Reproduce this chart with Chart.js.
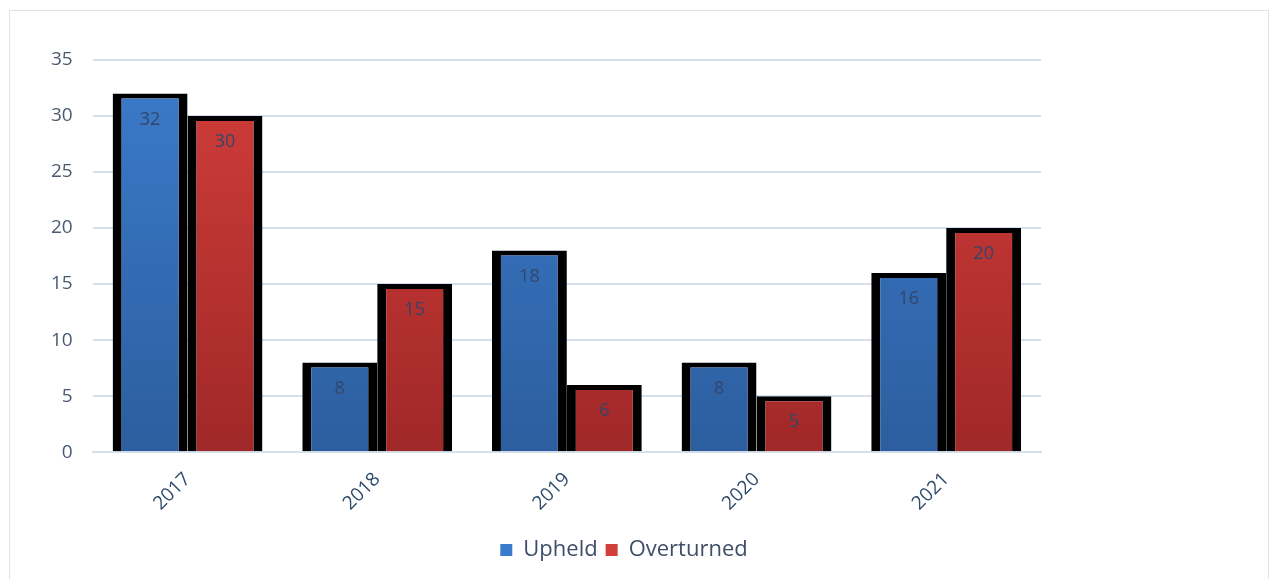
<!DOCTYPE html>
<html>
<head>
<meta charset="utf-8">
<script src="https://cdn.jsdelivr.net/npm/chart.js@4/dist/chart.umd.min.js"></script>
<style>
  html, body { margin: 0; padding: 0; background: #fff; }
  #wrap { position: absolute; left: 0; top: 0; width: 1273px; height: 579px; }
  #frame { position: absolute; left: 9px; top: 10px; width: 1258px; height: 580px; border: 1px solid #dde3ea; }
</style>
</head>
<body>
<div id="wrap">
  <div id="frame"></div>
  <canvas id="chart" width="1273" height="579"></canvas>
</div>
<script>
const years = ['2017', '2018', '2019', '2020', '2021'];
const upheld = [32, 8, 18, 8, 16];
const overturned = [30, 15, 6, 5, 20];

const blueTop = '#3b7bcb', blueBottom = '#2c5e9f';
const redTop = '#d23e3a', redBottom = '#a02828';

// vertical gradient fill across the plot area
const gradient = (top, bottom) => (ctx) => {
  const area = ctx.chart.chartArea;
  if (!area) return top;
  const g = ctx.chart.ctx.createLinearGradient(0, area.top, 0, area.bottom);
  g.addColorStop(0, top);
  g.addColorStop(1, bottom);
  return g;
};

// numbers drawn inside each bar, just below the top
const barLabels = {
  id: 'barLabels',
  afterDatasetsDraw(chart) {
    const ctx = chart.ctx;
    ctx.save();
    ctx.font = '18px "Open Sans", sans-serif';
    ctx.fillStyle = '#34466a';
    ctx.textAlign = 'center';
    ctx.textBaseline = 'middle';
    chart.data.datasets.forEach((ds, i) => {
      chart.getDatasetMeta(i).data.forEach((bar, j) => {
        ctx.fillText(ds.data[j], bar.x, bar.y + 26);
      });
    });
    ctx.restore();
  }
};

const legendColors = [blueTop, redTop];

new Chart(document.getElementById('chart'), {
  type: 'bar',
  data: {
    labels: years,
    datasets: [
      {
        label: 'Upheld',
        data: upheld,
        backgroundColor: gradient(blueTop, blueBottom),
        borderColor: '#000',
        borderWidth: { top: 5, left: 9, right: 9, bottom: 0 },
        borderSkipped: 'bottom',
      },
      {
        label: 'Overturned',
        data: overturned,
        backgroundColor: gradient(redTop, redBottom),
        borderColor: '#000',
        borderWidth: { top: 5, left: 9, right: 9, bottom: 0 },
        borderSkipped: 'bottom',
      },
    ],
  },
  options: {
    responsive: false,
    animation: false,
    layout: { padding: { left: 31, right: 56, top: 60, bottom: 8 } },
    datasets: {
      bar: { categoryPercentage: 0.79, barPercentage: 1.0 },
    },
    plugins: {
      legend: {
        position: 'bottom',
        labels: {
          boxWidth: 12,
          boxHeight: 12,
          padding: 8,
          color: '#3e4e6a',
          font: { size: 22, family: '"Open Sans", sans-serif' },
          generateLabels: (chart) => chart.data.datasets.map((ds, i) => ({
            text: ds.label,
            fillStyle: legendColors[i],
            strokeStyle: legendColors[i],
            lineWidth: 0,
            fontColor: '#3e4e6a',
            datasetIndex: i,
          })),
        },
      },
      tooltip: { enabled: false },
    },
    scales: {
      x: {
        grid: { display: false },
        border: { color: '#d6e0ea', width: 2 },
        afterFit: (scale) => { scale.height += 8; },
        ticks: {
          minRotation: 45,
          maxRotation: 45,
          padding: 8,
          color: '#2e4a6b',
          font: { size: 19, family: '"Open Sans", sans-serif' },
        },
      },
      y: {
        min: 0,
        max: 35,
        ticks: {
          stepSize: 5,
          padding: 20,
          color: '#4a5a70',
          font: { size: 19, family: '"Open Sans", sans-serif' },
        },
        grid: { color: '#d6e0ea', lineWidth: 2, drawTicks: false },
        border: { display: false },
      },
      // empty space on the right of the plot, as in the original
      spacer: {
        type: 'linear',
        position: 'right',
        display: true,
        grid: { display: false },
        border: { display: false },
        ticks: { display: false },
        afterFit: (scale) => { scale.width = 176; },
      },
    },
  },
  plugins: [barLabels],
});
</script>
</body>
</html>
